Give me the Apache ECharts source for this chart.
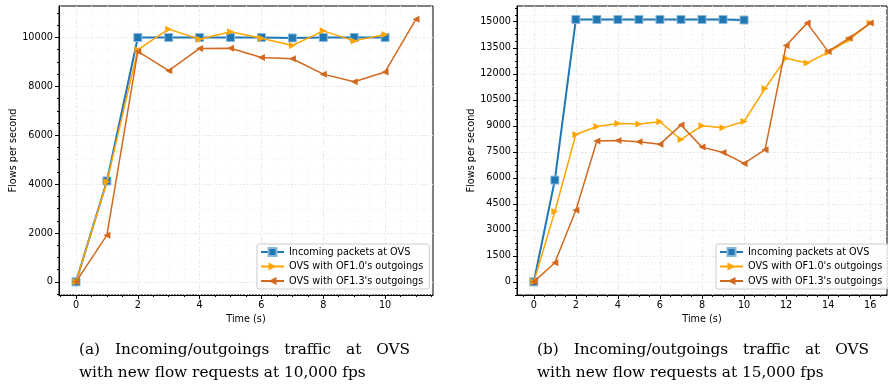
<!DOCTYPE html>
<html>
<head>
<meta charset="utf-8">
<script src="https://cdn.jsdelivr.net/npm/echarts@6/dist/echarts.min.js"></script>
<style>
  html, body { margin: 0; padding: 0; background: #fff; }
  #chart { width: 888px; height: 387px; }
</style>
</head>
<body>
<div id="chart"></div>
<script>
// Series names
const seriesNames = [
  'Incoming packets at OVS',
  "OVS with OF1.0's outgoings",
  "OVS with OF1.3's outgoings"
];

// (a) 10,000 fps: flows per second, one value per second starting at t = 0
const incomingA = [0, 4130, 10000, 10000, 10000, 10000, 10000, 9980, 10000, 10000, 10000];
const of10A = [0, 4100, 9500, 10340, 9930, 10230, 9970, 9670, 10270, 9860, 10120];
const of13A = [0, 1910, 9430, 8640, 9550, 9560, 9180, 9130, 8500, 8190, 8590, 10750];

// (b) 15,000 fps
const incomingB = [0, 5870, 15130, 15130, 15130, 15130, 15130, 15130, 15130, 15130, 15100];
const of10B = [0, 4060, 8500, 8960, 9130, 9100, 9230, 8210, 9000, 8880, 9250, 11150, 12900, 12620, 13230, 13960, 14920];
const of13B = [0, 1100, 4130, 8120, 8150, 8080, 7940, 9040, 7770, 7460, 6830, 7620, 13630, 14920, 13290, 14060, 14920];

// Tick values
const xTicksA = [0, 2, 4, 6, 8, 10];
const yTicksA = [0, 2000, 4000, 6000, 8000, 10000];
const xTicksB = [0, 2, 4, 6, 8, 10, 12, 14, 16];
const yTicksB = [0, 1500, 3000, 4500, 6000, 7500, 9000, 10500, 12000, 13500, 15000];

// Captions
const captionA = ['(a) Incoming/outgoings traffic at OVS', 'with new flow requests at 10,000 fps'];
const captionB = ['(b) Incoming/outgoings traffic at OVS', 'with new flow requests at 15,000 fps'];

const COLORS = ['#1f77b4', '#ffa500', '#d2691e'];
const FONT = 'DejaVu Sans';
const FS = 9.7;

function range(from, to, step) {
  const out = [];
  for (let v = from; v <= to + 1e-9; v += step) out.push(Math.round(v * 1000) / 1000);
  return out;
}
function pairs(arr) { return arr.map((v, i) => [i, v]); }

// axis extents with 5% padding around the data
const extA = { x: [-0.55, 11.55], y: [-537.5, 11287.5] };
const extB = { x: [-0.8, 16.8], y: [-757.5, 15907.5] };

const minorXA = range(-0.5, 11.5, 0.5);
const minorYA = range(-500, 11000, 500);
const minorXB = range(-0.5, 16.5, 0.5);
const minorYB = range(-750, 15750, 375);

function majorAxis(dim, ext, ticks, gridIndex, name, nameGap) {
  return {
    type: 'value', gridIndex: gridIndex,
    min: ext[0], max: ext[1],
    position: dim === 'x' ? 'bottom' : 'left',
    name: name, nameLocation: 'middle', nameGap: nameGap,
    nameTextStyle: { fontFamily: FONT, fontSize: FS, color: '#000' },
    axisLine: { show: true, onZero: false, lineStyle: { color: '#000', width: 1 } },
    axisTick: { show: true, inside: false, length: 4, customValues: ticks, lineStyle: { color: '#000', width: 1 } },
    axisLabel: { show: true, customValues: ticks, margin: dim === 'x' ? 5 : 6,
      formatter: v => String(v),
      fontFamily: FONT, fontSize: FS, color: '#000' },
    splitLine: { show: true, lineStyle: { color: '#e6e6e6', width: 1, type: [2, 2] } },
    minorTick: { show: false }, minorSplitLine: { show: false }
  };
}
// minor ticks live on an overlay grid of the same size
function minorAxis(dim, ext, ticks, gridIndex) {
  return {
    type: 'value', gridIndex: gridIndex,
    min: ext[0], max: ext[1],
    position: dim === 'x' ? 'bottom' : 'left',
    axisLine: { show: false, onZero: false },
    axisTick: { show: true, inside: false, length: 2, customValues: ticks, lineStyle: { color: '#000', width: 1 } },
    axisLabel: { show: false },
    splitLine: { show: true, lineStyle: { color: '#f2f2f2', width: 1, type: [1, 2] } }
  };
}

function lineSeries(idx, data, xAxisIndex, yAxisIndex) {
  const base = {
    type: 'line', name: seriesNames[idx],
    xAxisIndex: xAxisIndex, yAxisIndex: yAxisIndex,
    data: pairs(data), animation: false, z: 3 + idx,
    color: COLORS[idx]
  };
  if (idx === 0) {
    return Object.assign(base, {
      symbol: 'rect', symbolSize: 8,
      lineStyle: { color: COLORS[0], width: 2 },
      itemStyle: { color: COLORS[0], borderColor: '#8ab8da', borderWidth: 1 }
    });
  }
  return Object.assign(base, {
    symbol: 'triangle', symbolSize: 7,
    symbolRotate: idx === 1 ? -90 : 90,
    lineStyle: { color: COLORS[idx], width: 1.5 },
    itemStyle: { color: COLORS[idx], borderWidth: 0 }
  });
}

function legendAt(left, top) {
  return {
    data: seriesNames, orient: 'vertical',
    left: left, top: top,
    padding: [3, 6, 3, 3],
    itemWidth: 23, itemHeight: 10, itemGap: 4.5,
    backgroundColor: 'rgba(255,255,255,0.85)',
    borderColor: '#cccccc', borderWidth: 1, borderRadius: 2,
    textStyle: { fontFamily: FONT, fontSize: FS, color: '#000', lineHeight: 10, padding: [0, 0, 0, 0] },
    selectedMode: false
  };
}

// caption text: size chosen so the second line spans 286px, first line spread to full width
const measCtx = document.createElement('canvas').getContext('2d');
const capFamily = '"DejaVu Serif"';
measCtx.font = '100px ' + capFamily;
const capSize = Math.round(286 / measCtx.measureText(captionA[1]).width * 1000) / 10;
const capFont = capSize + 'px ' + capFamily;
function textWidth(t) { measCtx.font = capFont; return measCtx.measureText(t).width; }
function captionGraphics(lines, x0, x1, y0, y1) {
  const els = [];
  const words = lines[0].split(' ');
  const total = words.reduce((s, w) => s + textWidth(w), 0);
  const gap = (x1 - x0 - total) / (words.length - 1);
  let x = x0;
  words.forEach(w => {
    els.push({ type: 'text', left: x, top: y0, silent: true,
      style: { text: w, font: capFont, fill: '#000' } });
    x += textWidth(w) + gap;
  });
  els.push({ type: 'text', left: x0, top: y1, silent: true,
    style: { text: lines[1], font: capFont, fill: '#000' } });
  return els;
}

const boxA = { left: 59, top: 6, width: 374, height: 289 };
const boxB = { left: 517, top: 6, width: 370, height: 289 };

const chart = echarts.init(document.getElementById('chart'), null, { renderer: 'canvas' });
chart.setOption({
  backgroundColor: '#fff',
  animation: false,
  grid: [
    Object.assign({ show: true, borderColor: '#000', borderWidth: 1, backgroundColor: 'transparent' }, boxA),
    Object.assign({ show: true, borderColor: '#000', borderWidth: 1, backgroundColor: 'transparent' }, boxB),
    Object.assign({ show: false }, boxA),
    Object.assign({ show: false }, boxB)
  ],
  xAxis: [
    majorAxis('x', extA.x, xTicksA, 0, 'Time (s)', 19),
    majorAxis('x', extB.x, xTicksB, 1, 'Time (s)', 19),
    minorAxis('x', extA.x, minorXA, 2),
    minorAxis('x', extB.x, minorXB, 3)
  ],
  yAxis: [
    majorAxis('y', extA.y, yTicksA, 0, 'Flows per second', 38),
    majorAxis('y', extB.y, yTicksB, 1, 'Flows per second', 37),
    minorAxis('y', extA.y, minorYA, 2),
    minorAxis('y', extB.y, minorYB, 3)
  ],
  legend: [legendAt(257, 244), legendAt(716, 244)],
  series: [
    lineSeries(0, incomingA, 0, 0),
    lineSeries(1, of10A, 0, 0),
    lineSeries(2, of13A, 0, 0),
    lineSeries(0, incomingB, 1, 1),
    lineSeries(1, of10B, 1, 1),
    lineSeries(2, of13B, 1, 1)
  ],
  graphic: captionGraphics(captionA, 79, 410, 343, 366)
    .concat(captionGraphics(captionB, 537, 869, 343, 366))
});
</script>
</body>
</html>
